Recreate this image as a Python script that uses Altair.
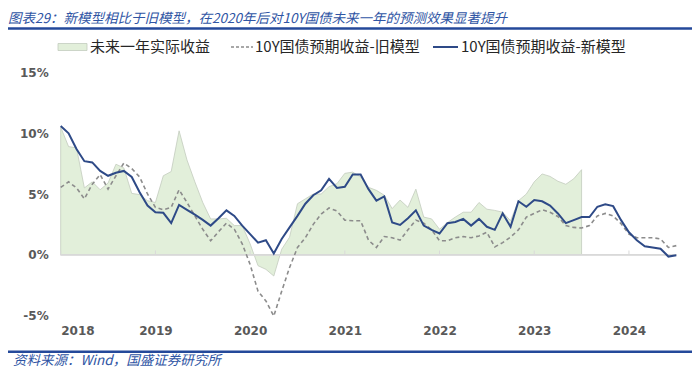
import altair as alt
import pandas as pd

# month index: 0 = 2018-01 ... 78 = 2024-07
months = list(range(79))

new_model = [10.6, 10.0, 8.7, 7.7, 7.6, 6.9, 6.5, 6.75, 6.9, 6.4,
             5.15, 4.05, 3.5, 3.45, 2.6, 4.1, 3.7, 3.3, 2.87, 2.4,
             3.0, 3.65, 3.2, 2.4, 1.7, 1.0, 1.2, 0.1, 1.3, 2.25,
             3.2, 4.2, 4.9, 5.3, 6.25, 5.5, 5.6, 6.6, 6.6, 5.4,
             4.45, 4.8, 2.65, 2.45, 3.0, 3.65, 2.4, 2.05, 1.75, 2.6,
             2.7, 2.95, 2.4, 2.95, 2.3, 2.05, 3.4, 2.3, 4.4, 3.95,
             4.5, 4.4, 4.05, 3.4, 2.6, 2.85, 3.1, 3.1, 3.95, 4.15,
             4.0, 2.85, 1.85, 1.2, 0.7, 0.6, 0.5, -0.15, -0.05]

old_model = [5.55, 6.0, 5.5, 4.6, 5.8, 6.6, 5.4, 6.5, 7.55, 7.1,
             6.4, 5.0, 3.9, 3.7, 3.9, 5.35, 4.3, 3.2, 2.1, 1.15,
             1.9, 2.6, 2.1, 0.9, -0.8, -3.0, -3.8, -5.05, -3.0, -1.05,
             0.6, 1.4, 2.5, 3.35, 3.85, 3.6, 2.85, 2.8, 2.8, 1.2,
             0.6, 1.5, 1.4, 1.2, 2.05, 2.85, 2.6, 2.05, 1.15, 1.15,
             1.4, 1.5, 1.4, 1.55, 1.85, 0.65, 1.0, 1.45, 2.05, 3.1,
             3.4, 3.7, 3.5, 3.15, 2.4, 2.25, 2.2, 2.4, 3.2, 3.4,
             3.2, 2.55, 1.7, 1.4, 1.4, 1.4, 1.3, 0.6, 0.75]

actual = [10.5, 8.9, 8.8, 5.5, 6.0, 5.35, 5.9, 7.45, 7.15, 5.05,
          4.95, 4.45, 4.3, 6.5, 6.85, 10.2, 7.8, 6.0, 4.3, 2.95,
          2.95, 3.0, 2.4, 2.4, 0.9, -0.9, -1.2, -1.75, 0.45, 1.45,
          4.2, 4.6, 5.0, 5.0, 5.6, 5.85, 6.7, 6.8, 6.4, 5.55,
          5.3, 4.9, 3.8, 4.5, 3.9, 5.4, 3.1, 2.95, 2.1, 2.65,
          3.1, 3.5, 3.5, 4.3, 3.75, 3.65, 3.5, 2.8, 4.45, 5.0,
          6.0, 6.65, 6.45, 6.05, 5.8, 6.25, 7.0]

year_labels = ["2018", "2019", "2020", "2021", "2022", "2023", "2024"]
year_ticks = [0, 12, 24, 36, 48, 60, 72]
y_ticks = [-5, 0, 5, 10, 15]

title_text = "图表29：新模型相比于旧模型，在2020年后对10Y国债未来一年的预测效果显著提升"
source_text = "资料来源：Wind，国盛证券研究所"
legend_names = ["未来一年实际收益", "10Y国债预期收益-旧模型", "10Y国债预期收益-新模型"]

lines_df = pd.DataFrame({"m": months, "new": new_model, "old": old_model})
actual_df = pd.DataFrame({"m": months[:len(actual)], "actual": actual})
ticks_df = pd.DataFrame({"m": year_ticks})

BLUE = "#2E4A87"
GREY = "#8C8C8C"
GREEN = "#E2EFDA"
TXT = "#2F55A4"
AX = "#595959"

label_expr = "[" + ",".join("'" + s + "'" for s in year_labels) + "][datum.value/12]"

xs = alt.Scale(domain=[0, 78], nice=False, zero=False)
ys = alt.Scale(domain=[-5, 15], nice=False, zero=False)

x_axis = alt.Axis(values=year_ticks, labelExpr=label_expr, title=None, grid=False,
                  domain=False, ticks=False, labelFont="DejaVu Sans", labelFontWeight="bold",
                  labelFontSize=12, labelColor=AX, labelPadding=10)
y_axis = alt.Axis(values=y_ticks, labelExpr="datum.value + '%'", title=None, grid=False,
                  domain=False, ticks=False, labelFont="DejaVu Sans", labelFontWeight="bold",
                  labelFontSize=12, labelColor=AX, labelPadding=12.5)

area = alt.Chart(actual_df).mark_area(fill=GREEN, stroke="#C3CBBE", strokeWidth=0.8).encode(
    x=alt.X("m:Q", scale=xs, axis=x_axis),
    y=alt.Y("actual:Q", scale=ys, axis=y_axis),
    y2=alt.datum(0),
)

base_rule = alt.Chart(ticks_df).mark_rule(color="#D9D9D9", strokeWidth=1).encode(
    x=alt.datum(0, scale=xs), x2=alt.datum(78), y=alt.datum(0, scale=ys)
)
tick_marks = alt.Chart(ticks_df).mark_rule(color="#D9D9D9", strokeWidth=1).encode(
    x=alt.X("m:Q", scale=xs), y=alt.datum(0, scale=ys), y2=alt.datum(0.35)
)

old_line = alt.Chart(lines_df).mark_line(color=GREY, strokeWidth=1.6, strokeDash=[4, 3]).encode(
    x=alt.X("m:Q", scale=xs), y=alt.Y("old:Q", scale=ys)
)
new_line = alt.Chart(lines_df).mark_line(color=BLUE, strokeWidth=2).encode(
    x=alt.X("m:Q", scale=xs), y=alt.Y("new:Q", scale=ys)
)

one = pd.DataFrame({"k": [0]})

def txt(s, x, y, size, color, font="Noto Sans CJK SC", style="normal", weight="normal"):
    return alt.Chart(pd.DataFrame({"t": [s]})).mark_text(
        align="left", baseline="middle", fontSize=size, color=color, font=font,
        fontStyle=style, fontWeight=weight
    ).encode(x=alt.value(x), y=alt.value(y), text="t:N")

LY = -25.5
leg_rect = alt.Chart(one).mark_rect(fill=GREEN, stroke="#C3CBBE", strokeWidth=0.8).encode(
    x=alt.value(-2.7), x2=alt.value(26.3), y=alt.value(LY - 3.5), y2=alt.value(LY + 3.5)
)
leg_old = alt.Chart(one).mark_rule(color=GREY, strokeWidth=1.6, strokeDash=[3, 2]).encode(
    x=alt.value(170.3), x2=alt.value(192.3), y=alt.value(LY)
)
leg_new = alt.Chart(one).mark_rule(color=BLUE, strokeWidth=2).encode(
    x=alt.value(372.3), x2=alt.value(397.3), y=alt.value(LY)
)
leg_t1 = txt(legend_names[0], 29.3, LY, 15, "#262626")
leg_t2 = txt(legend_names[1], 194.3, LY, 15, "#262626")
leg_t3 = txt(legend_names[2], 400.3, LY, 15, "#262626")

title = txt(title_text, -52.7, -54, 13.5, TXT, style="italic")
top_rule = alt.Chart(one).mark_rule(color="#24499A", strokeWidth=2.5).encode(
    x=alt.value(-52.7), x2=alt.value(631.3), y=alt.value(-44)
)
bot_rule = alt.Chart(one).mark_rule(color="#24499A", strokeWidth=2.5).encode(
    x=alt.value(-52.7), x2=alt.value(631.3), y=alt.value(279.2)
)
source = txt(source_text, -47.7, 288, 13.5, TXT, style="italic")

chart = alt.layer(
    area, base_rule, tick_marks, old_line, new_line,
    leg_rect, leg_old, leg_new, leg_t1, leg_t2, leg_t3,
    title, top_rule, bot_rule, source
).properties(
    width=615.6, height=243,
    autosize=alt.AutoSizeParams(type="none"),
    padding={"left": 52.7, "top": 64.5, "right": 15.7, "bottom": 58},
    background="white",
).configure_view(stroke=None)

chart.save("out.html", embed_options={"renderer": "svg", "actions": False})
